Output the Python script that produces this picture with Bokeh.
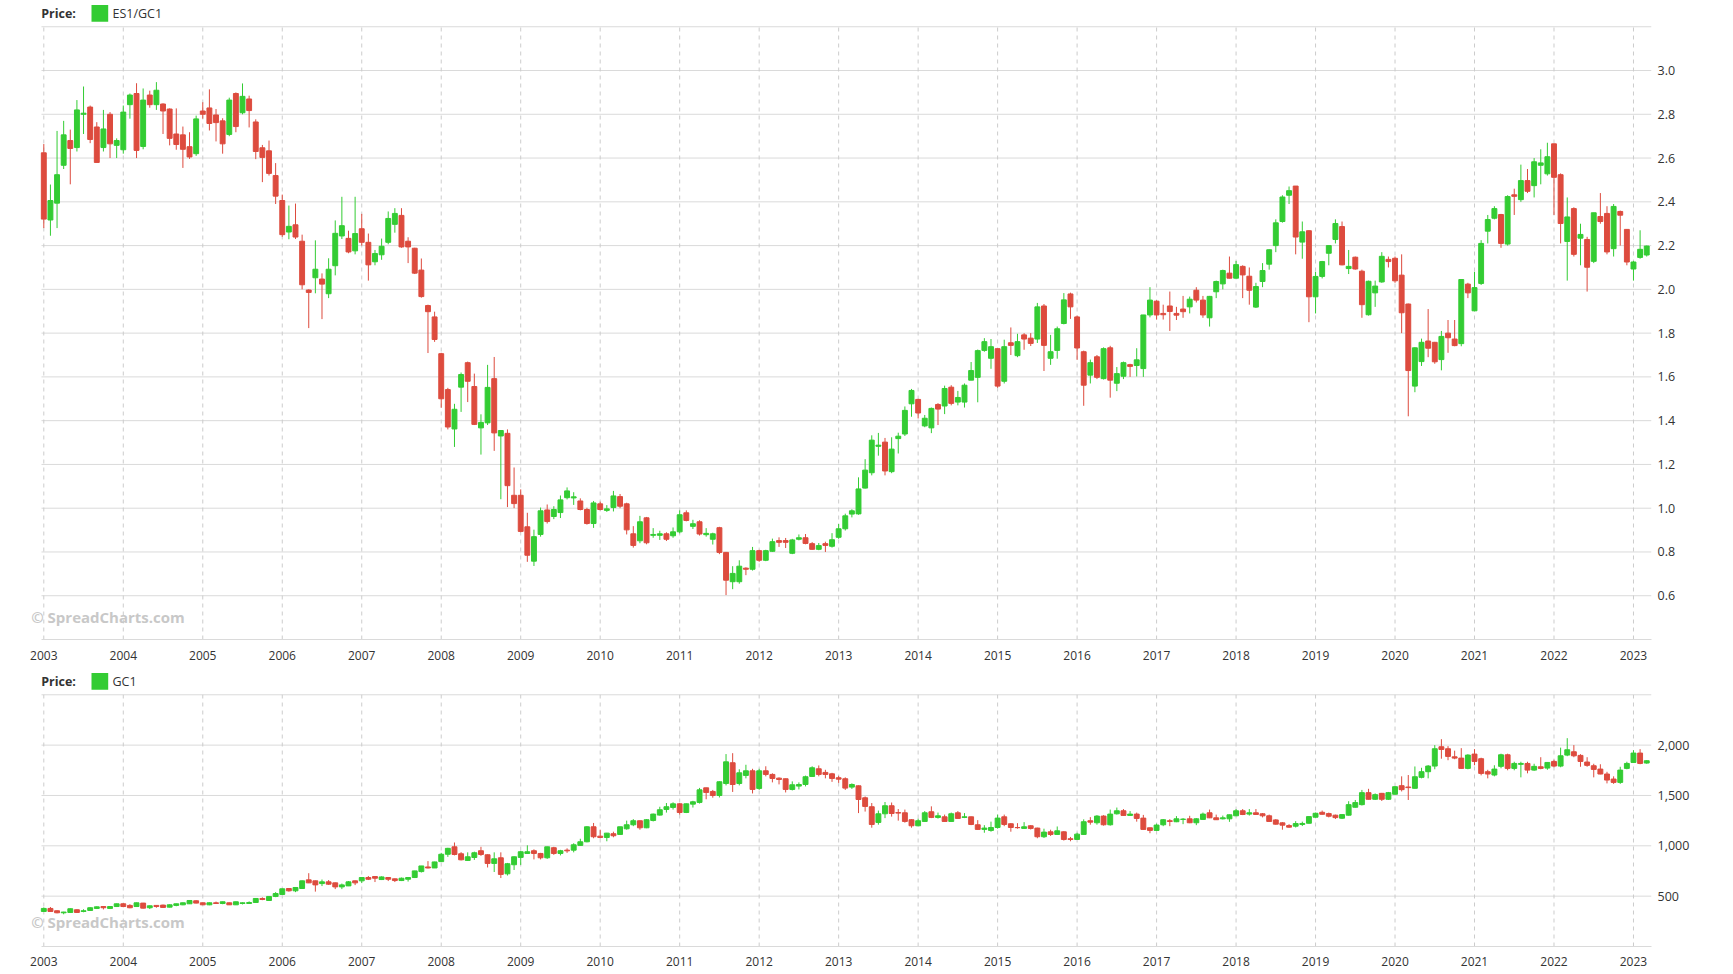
from bokeh.plotting import figure
from bokeh.models import (ColumnDataSource, FixedTicker, Range1d, Label,
                          BoxAnnotation, NumeralTickFormatter)
from bokeh.layouts import column
from bokeh.embed import file_html
from bokeh.resources import INLINE

# ---------------- data (monthly, Jan 2003 .. Mar 2023) ----------------
year_labels = ["2003", "2004", "2005", "2006", "2007", "2008", "2009", "2010",
               "2011", "2012", "2013", "2014", "2015", "2016", "2017", "2018",
               "2019", "2020", "2021", "2022", "2023"]

ratio_open = [
    2.624, 2.317, 2.394, 2.567, 2.680, 2.648, 2.800, 2.833, 2.742, 2.648, 2.800, 2.658,
    2.638, 2.844, 2.895, 2.653, 2.888, 2.844, 2.847, 2.824, 2.710, 2.706, 2.652, 2.620,
    2.815, 2.829, 2.797, 2.770, 2.708, 2.895, 2.807, 2.870, 2.765, 2.647, 2.633, 2.520,
    2.406, 2.262, 2.295, 2.220, 1.997, 2.053, 2.047, 1.980, 2.108, 2.244, 2.233, 2.176,
    2.277, 2.215, 2.126, 2.158, 2.215, 2.297, 2.338, 2.220, 2.188, 2.088, 1.926, 1.874,
    1.706, 1.542, 1.362, 1.553, 1.665, 1.556, 1.367, 1.390, 1.592, 1.330, 1.342, 1.059,
    1.059, 0.915, 0.758, 0.880, 0.992, 0.962, 0.980, 1.048, 1.047, 1.033, 0.994, 0.930,
    1.020, 0.990, 1.003, 1.053, 1.020, 0.883, 0.851, 0.956, 0.876, 0.876, 0.883, 0.874,
    0.892, 0.979, 0.917, 0.938, 0.879, 0.858, 0.911, 0.798, 0.664, 0.664, 0.726, 0.721,
    0.806, 0.762, 0.803, 0.852, 0.852, 0.794, 0.858, 0.865, 0.838, 0.812, 0.838, 0.826,
    0.867, 0.906, 0.973, 0.974, 1.092, 1.162, 1.283, 1.302, 1.167, 1.318, 1.339, 1.477,
    1.497, 1.376, 1.367, 1.474, 1.467, 1.553, 1.485, 1.485, 1.585, 1.598, 1.721, 1.685,
    1.729, 1.580, 1.756, 1.697, 1.792, 1.777, 1.773, 1.924, 1.685, 1.721, 1.844, 1.979,
    1.874, 1.715, 1.608, 1.692, 1.592, 1.733, 1.571, 1.603, 1.656, 1.652, 1.638, 1.883,
    1.946, 1.890, 1.924, 1.890, 1.910, 1.920, 1.996, 1.951, 1.870, 1.989, 2.025, 2.074,
    2.051, 2.105, 2.060, 1.919, 2.036, 2.115, 2.200, 2.310, 2.430, 2.472, 2.216, 2.268,
    1.966, 2.059, 2.165, 2.228, 2.287, 2.095, 2.147, 2.083, 1.884, 1.984, 2.034, 2.137,
    2.142, 2.065, 1.933, 1.558, 1.670, 1.764, 1.758, 1.679, 1.800, 1.773, 1.752, 2.024,
    1.902, 2.027, 2.266, 2.325, 2.342, 2.207, 2.432, 2.410, 2.497, 2.474, 2.567, 2.528,
    2.665, 2.524, 2.219, 2.369, 2.234, 2.228, 2.128, 2.333, 2.347, 2.186, 2.356, 2.274,
    2.093, 2.146, 2.157]
ratio_high = [
    2.664, 2.479, 2.724, 2.770, 2.730, 2.865, 2.927, 2.840, 2.764, 2.820, 2.810, 2.690,
    2.840, 2.895, 2.942, 2.918, 2.908, 2.947, 2.850, 2.827, 2.827, 2.744, 2.718, 2.794,
    2.855, 2.914, 2.824, 2.782, 2.876, 2.900, 2.941, 2.885, 2.777, 2.660, 2.680, 2.577,
    2.433, 2.383, 2.392, 2.250, 2.000, 2.224, 2.073, 2.142, 2.315, 2.423, 2.268, 2.423,
    2.345, 2.255, 2.180, 2.232, 2.356, 2.371, 2.371, 2.238, 2.190, 2.141, 1.930, 1.898,
    1.710, 1.550, 1.477, 1.620, 1.670, 1.615, 1.429, 1.655, 1.691, 1.355, 1.360, 1.186,
    1.086, 0.979, 0.902, 1.003, 1.017, 1.009, 1.058, 1.095, 1.073, 1.045, 1.002, 1.033,
    1.030, 1.014, 1.079, 1.065, 1.025, 0.918, 0.965, 0.960, 0.909, 0.897, 0.890, 0.912,
    0.990, 0.990, 0.947, 0.945, 0.909, 0.888, 0.915, 0.800, 0.735, 0.762, 0.730, 0.823,
    0.810, 0.810, 0.861, 0.867, 0.864, 0.860, 0.880, 0.882, 0.845, 0.841, 0.847, 0.886,
    0.928, 0.975, 0.995, 1.141, 1.224, 1.333, 1.344, 1.321, 1.324, 1.345, 1.465, 1.545,
    1.500, 1.426, 1.460, 1.480, 1.560, 1.562, 1.536, 1.570, 1.668, 1.725, 1.777, 1.773,
    1.730, 1.770, 1.826, 1.797, 1.800, 1.800, 1.938, 1.933, 1.792, 1.830, 1.983, 1.985,
    1.880, 1.720, 1.679, 1.700, 1.735, 1.742, 1.645, 1.670, 1.660, 1.731, 1.883, 2.010,
    1.950, 1.930, 1.990, 1.920, 1.970, 1.967, 2.010, 1.970, 1.970, 2.040, 2.090, 2.150,
    2.130, 2.110, 2.100, 2.030, 2.120, 2.183, 2.320, 2.430, 2.470, 2.472, 2.310, 2.270,
    2.080, 2.130, 2.200, 2.320, 2.310, 2.180, 2.150, 2.090, 2.040, 2.040, 2.170, 2.150,
    2.150, 2.160, 1.935, 1.735, 1.775, 1.910, 1.760, 1.810, 1.860, 1.860, 2.045, 2.030,
    2.080, 2.225, 2.340, 2.380, 2.345, 2.430, 2.460, 2.570, 2.550, 2.600, 2.640, 2.670,
    2.665, 2.530, 2.420, 2.375, 2.300, 2.240, 2.350, 2.440, 2.380, 2.390, 2.360, 2.275,
    2.130, 2.270, 2.200]
ratio_low = [
    2.280, 2.245, 2.280, 2.550, 2.480, 2.630, 2.710, 2.668, 2.580, 2.630, 2.600, 2.600,
    2.620, 2.780, 2.600, 2.640, 2.830, 2.820, 2.710, 2.658, 2.638, 2.555, 2.596, 2.610,
    2.780, 2.726, 2.676, 2.620, 2.700, 2.718, 2.800, 2.740, 2.595, 2.490, 2.520, 2.390,
    2.240, 2.229, 2.230, 2.000, 1.823, 1.982, 1.864, 1.960, 2.064, 2.230, 2.165, 2.160,
    2.200, 2.040, 2.110, 2.135, 2.206, 2.259, 2.190, 2.120, 2.070, 1.962, 1.709, 1.760,
    1.459, 1.360, 1.280, 1.440, 1.485, 1.380, 1.245, 1.380, 1.262, 1.041, 1.005, 1.000,
    0.890, 0.755, 0.736, 0.870, 0.930, 0.950, 0.955, 1.040, 1.015, 0.990, 0.925, 0.910,
    0.990, 0.983, 0.985, 1.000, 0.880, 0.820, 0.840, 0.835, 0.865, 0.855, 0.850, 0.865,
    0.885, 0.940, 0.905, 0.875, 0.870, 0.834, 0.790, 0.603, 0.630, 0.655, 0.694, 0.715,
    0.755, 0.758, 0.800, 0.823, 0.818, 0.790, 0.853, 0.835, 0.810, 0.808, 0.800, 0.820,
    0.860, 0.898, 0.958, 0.970, 1.090, 1.150, 1.240, 1.150, 1.160, 1.250, 1.330, 1.418,
    1.410, 1.370, 1.343, 1.380, 1.430, 1.470, 1.470, 1.460, 1.585, 1.484, 1.715, 1.637,
    1.550, 1.570, 1.700, 1.690, 1.724, 1.741, 1.755, 1.627, 1.655, 1.683, 1.840, 1.865,
    1.678, 1.468, 1.570, 1.590, 1.588, 1.505, 1.535, 1.590, 1.600, 1.602, 1.600, 1.872,
    1.862, 1.862, 1.810, 1.860, 1.870, 1.890, 1.940, 1.870, 1.830, 1.960, 2.000, 2.050,
    2.050, 1.960, 1.930, 1.915, 2.010, 2.090, 2.170, 2.305, 2.390, 2.160, 2.140, 1.850,
    1.890, 2.050, 2.110, 2.210, 2.110, 2.070, 2.090, 1.870, 1.880, 1.920, 2.030, 2.100,
    2.030, 1.800, 1.420, 1.530, 1.650, 1.690, 1.660, 1.630, 1.710, 1.740, 1.740, 1.960,
    1.900, 2.020, 2.210, 2.320, 2.190, 2.200, 2.340, 2.400, 2.440, 2.420, 2.480, 2.520,
    2.340, 2.210, 2.040, 2.150, 2.110, 1.990, 2.120, 2.300, 2.160, 2.150, 2.200, 2.110,
    2.040, 2.140, 2.150]
ratio_close = [
    2.321, 2.406, 2.524, 2.706, 2.644, 2.820, 2.805, 2.685, 2.580, 2.733, 2.665, 2.680,
    2.810, 2.888, 2.635, 2.865, 2.844, 2.910, 2.815, 2.690, 2.662, 2.640, 2.605, 2.779,
    2.800, 2.758, 2.762, 2.665, 2.865, 2.744, 2.882, 2.817, 2.630, 2.603, 2.530, 2.426,
    2.250, 2.288, 2.239, 2.021, 1.986, 2.092, 2.024, 2.092, 2.256, 2.291, 2.171, 2.255,
    2.215, 2.112, 2.164, 2.197, 2.324, 2.347, 2.194, 2.194, 2.074, 1.967, 1.898, 1.771,
    1.500, 1.371, 1.452, 1.611, 1.580, 1.383, 1.392, 1.552, 1.344, 1.355, 1.103, 1.021,
    0.894, 0.785, 0.870, 0.988, 0.939, 0.994, 1.038, 1.079, 1.052, 0.994, 0.930, 1.024,
    0.994, 0.997, 1.056, 1.009, 0.901, 0.830, 0.938, 0.842, 0.880, 0.883, 0.858, 0.892,
    0.970, 0.944, 0.929, 0.882, 0.885, 0.883, 0.798, 0.671, 0.702, 0.735, 0.721, 0.806,
    0.762, 0.806, 0.847, 0.844, 0.844, 0.855, 0.865, 0.839, 0.812, 0.829, 0.830, 0.856,
    0.906, 0.965, 0.988, 1.088, 1.174, 1.311, 1.288, 1.170, 1.270, 1.329, 1.447, 1.538,
    1.435, 1.411, 1.456, 1.453, 1.547, 1.479, 1.506, 1.562, 1.629, 1.720, 1.761, 1.738,
    1.558, 1.738, 1.744, 1.761, 1.773, 1.753, 1.920, 1.744, 1.715, 1.820, 1.952, 1.920,
    1.732, 1.562, 1.665, 1.598, 1.729, 1.585, 1.615, 1.665, 1.648, 1.678, 1.883, 1.951,
    1.883, 1.884, 1.899, 1.882, 1.898, 1.955, 1.951, 1.883, 1.968, 2.036, 2.086, 2.051,
    2.113, 2.066, 1.996, 2.013, 2.086, 2.181, 2.304, 2.422, 2.451, 2.239, 2.263, 1.966,
    2.059, 2.127, 2.200, 2.301, 2.112, 2.105, 2.093, 1.930, 2.037, 2.015, 2.151, 2.127,
    2.039, 1.893, 1.629, 1.733, 1.758, 1.731, 1.669, 1.785, 1.779, 1.743, 2.045, 1.984,
    2.008, 2.210, 2.319, 2.369, 2.210, 2.424, 2.425, 2.497, 2.448, 2.583, 2.578, 2.606,
    2.512, 2.301, 2.331, 2.160, 2.251, 2.101, 2.350, 2.310, 2.171, 2.379, 2.339, 2.125,
    2.125, 2.183, 2.198]

gold_open = [
    348, 378, 355, 335, 338, 365, 348, 358, 378, 397, 378, 397,
    424, 408, 397, 431, 385, 408, 411, 391, 408, 414, 424, 454,
    434, 414, 434, 427, 434, 414, 427, 427, 437, 477, 457, 497,
    517, 576, 553, 576, 662, 652, 625, 642, 632, 592, 602, 652,
    652, 685, 695, 665, 685, 672, 655, 668, 685, 744, 790, 780,
    843, 916, 990, 921, 855, 884, 951, 911, 825, 881, 722, 812,
    885, 924, 951, 924, 881, 981, 924, 957, 957, 1004, 1040, 1189,
    1096, 1083, 1120, 1113, 1169, 1209, 1249, 1179, 1252, 1305, 1361, 1381,
    1417, 1331, 1414, 1431, 1576, 1540, 1500, 1619, 1825, 1619, 1699, 1745,
    1570, 1745, 1709, 1672, 1666, 1560, 1593, 1609, 1689, 1765, 1729, 1715,
    1676, 1666, 1583, 1596, 1477, 1388, 1232, 1318, 1398, 1330, 1328, 1259,
    1199, 1242, 1338, 1282, 1288, 1242, 1328, 1282, 1288, 1209, 1163, 1153,
    1182, 1288, 1219, 1182, 1173, 1199, 1176, 1090, 1139, 1113, 1139, 1070,
    1063, 1113, 1249, 1229, 1295, 1209, 1318, 1348, 1302, 1315, 1275, 1179,
    1153, 1209, 1249, 1239, 1262, 1268, 1229, 1262, 1328, 1278, 1268, 1268,
    1298, 1348, 1315, 1328, 1318, 1298, 1257, 1228, 1201, 1195, 1212, 1224,
    1284, 1333, 1320, 1304, 1274, 1304, 1383, 1409, 1528, 1462, 1521, 1462,
    1512, 1597, 1584, 1571, 1680, 1736, 1792, 1984, 1964, 1884, 1871, 1769,
    1911, 1865, 1736, 1703, 1789, 1904, 1769, 1809, 1818, 1752, 1785, 1772,
    1838, 1792, 1901, 1934, 1898, 1832, 1795, 1762, 1713, 1663, 1630, 1769,
    1828, 1921, 1822]
gold_high = [
    388, 392, 358, 345, 378, 368, 370, 390, 398, 400, 400, 426,
    430, 420, 436, 433, 408, 410, 416, 418, 426, 436, 458, 458,
    436, 438, 446, 446, 436, 446, 438, 448, 478, 488, 500, 540,
    575, 580, 590, 655, 728, 655, 665, 660, 635, 625, 650, 655,
    690, 700, 700, 697, 690, 675, 685, 688, 752, 800, 848, 842,
    930, 980, 1033, 937, 935, 942, 990, 915, 935, 935, 830, 895,
    950, 1005, 965, 930, 992, 990, 960, 975, 1025, 1070, 1195, 1227,
    1160, 1128, 1140, 1190, 1250, 1265, 1250, 1265, 1320, 1388, 1425, 1432,
    1425, 1420, 1447, 1575, 1577, 1555, 1640, 1911, 1920, 1760, 1805, 1765,
    1765, 1790, 1720, 1680, 1668, 1640, 1630, 1697, 1790, 1798, 1755, 1725,
    1695, 1680, 1620, 1600, 1490, 1425, 1350, 1435, 1430, 1365, 1360, 1265,
    1270, 1345, 1392, 1330, 1310, 1330, 1345, 1325, 1290, 1255, 1205, 1240,
    1310, 1310, 1225, 1225, 1235, 1205, 1180, 1170, 1160, 1192, 1145, 1088,
    1130, 1263, 1285, 1305, 1305, 1360, 1380, 1365, 1345, 1330, 1307, 1180,
    1220, 1265, 1265, 1295, 1275, 1298, 1275, 1330, 1360, 1310, 1300, 1310,
    1365, 1365, 1365, 1365, 1325, 1310, 1265, 1235, 1215, 1245, 1240, 1293,
    1330, 1350, 1330, 1310, 1312, 1443, 1455, 1555, 1566, 1520, 1525, 1535,
    1592, 1690, 1703, 1788, 1775, 1802, 2000, 2059, 1990, 1945, 1970, 1910,
    1960, 1875, 1755, 1800, 1915, 1915, 1835, 1835, 1835, 1815, 1880, 1832,
    1855, 1975, 2069, 2000, 1910, 1880, 1815, 1810, 1735, 1690, 1785, 1835,
    1950, 1960, 1850]
gold_low = [
    345, 345, 330, 320, 335, 335, 340, 355, 372, 368, 372, 392,
    390, 380, 395, 378, 372, 385, 385, 388, 400, 410, 422, 428,
    412, 410, 424, 420, 412, 412, 418, 425, 435, 460, 455, 490,
    515, 545, 540, 575, 630, 545, 600, 612, 570, 570, 600, 610,
    630, 660, 640, 660, 650, 640, 650, 645, 680, 735, 775, 780,
    840, 890, 905, 855, 850, 860, 900, 785, 740, 680, 705, 760,
    810, 920, 865, 865, 870, 910, 905, 930, 935, 1000, 1035, 1075,
    1075, 1045, 1085, 1110, 1160, 1195, 1160, 1175, 1242, 1300, 1330, 1360,
    1310, 1325, 1380, 1420, 1462, 1478, 1480, 1600, 1535, 1600, 1670, 1520,
    1555, 1690, 1630, 1610, 1530, 1550, 1560, 1590, 1685, 1690, 1670, 1635,
    1625, 1555, 1565, 1325, 1340, 1180, 1210, 1275, 1290, 1250, 1230, 1180,
    1195, 1240, 1275, 1270, 1240, 1240, 1270, 1275, 1205, 1160, 1130, 1140,
    1170, 1195, 1140, 1170, 1170, 1162, 1075, 1078, 1098, 1110, 1052, 1045,
    1060, 1110, 1210, 1210, 1200, 1200, 1310, 1300, 1300, 1240, 1160, 1125,
    1148, 1195, 1195, 1235, 1215, 1225, 1205, 1260, 1275, 1258, 1262, 1238,
    1295, 1305, 1300, 1310, 1282, 1238, 1210, 1160, 1180, 1182, 1196, 1222,
    1280, 1310, 1282, 1266, 1266, 1300, 1380, 1400, 1460, 1455, 1445, 1455,
    1510, 1540, 1455, 1570, 1670, 1670, 1760, 1865, 1850, 1860, 1765, 1760,
    1800, 1700, 1670, 1690, 1770, 1750, 1750, 1680, 1720, 1745, 1760, 1755,
    1780, 1780, 1890, 1880, 1785, 1785, 1680, 1710, 1620, 1615, 1615, 1760,
    1825, 1810, 1815]
gold_close = [
    378, 348, 335, 342, 375, 338, 355, 385, 394, 385, 397, 424,
    397, 385, 434, 381, 404, 397, 388, 414, 424, 434, 457, 431,
    414, 434, 427, 444, 414, 444, 434, 437, 477, 467, 497, 526,
    573, 553, 586, 652, 632, 612, 642, 619, 592, 612, 642, 632,
    685, 668, 678, 691, 668, 655, 678, 685, 751, 800, 780, 840,
    916, 975, 914, 861, 891, 931, 914, 825, 871, 716, 822, 891,
    941, 941, 924, 881, 990, 924, 951, 950, 1010, 1040, 1189, 1090,
    1083, 1126, 1100, 1189, 1209, 1249, 1179, 1259, 1315, 1358, 1388, 1417,
    1331, 1417, 1437, 1556, 1530, 1500, 1636, 1834, 1609, 1725, 1745, 1560,
    1745, 1709, 1669, 1659, 1560, 1606, 1609, 1686, 1775, 1709, 1709, 1669,
    1662, 1573, 1609, 1460, 1391, 1212, 1318, 1398, 1321, 1325, 1242, 1199,
    1249, 1328, 1282, 1298, 1242, 1318, 1272, 1288, 1212, 1163, 1176, 1182,
    1275, 1212, 1182, 1180, 1189, 1173, 1090, 1136, 1113, 1149, 1063, 1063,
    1116, 1239, 1235, 1295, 1209, 1315, 1348, 1302, 1315, 1272, 1163, 1153,
    1206, 1259, 1242, 1268, 1265, 1229, 1268, 1315, 1278, 1259, 1278, 1308,
    1348, 1311, 1328, 1311, 1298, 1242, 1215, 1205, 1185, 1221, 1222, 1290,
    1323, 1313, 1294, 1280, 1310, 1409, 1429, 1528, 1462, 1508, 1462, 1528,
    1587, 1558, 1578, 1686, 1736, 1792, 1964, 1957, 1888, 1871, 1769, 1901,
    1838, 1719, 1713, 1762, 1904, 1769, 1818, 1818, 1752, 1789, 1769, 1828,
    1792, 1894, 1954, 1894, 1838, 1799, 1759, 1713, 1653, 1630, 1752, 1818,
    1921, 1818, 1845]

ratio_ticks = [0.6, 0.8, 1.0, 1.2, 1.4, 1.6, 1.8, 2.0, 2.2, 2.4, 2.6, 2.8, 3.0]
ratio_grid = ratio_ticks + [3.2]
ratio_span = (0.4, 3.2)        # value extent of the ratio chart body
gold_ticks = [500, 1000, 1500, 2000]
gold_grid = gold_ticks + [2500]
gold_span = (0, 2500)          # value extent of the gold chart body

# ---------------- styling / layout ----------------
FONT = "Open Sans"
GREEN = "#33cc33"
RED = "#dd4b3e"
TXT = "#333333"
GRID = "#dadada"
VGRID = "#cccccc"

n = len(ratio_close)
months = list(range(n))
year_ticks = months[::12]
year_over = {t: lab for t, lab in zip(year_ticks, year_labels)}

X_LO, X_HI = -0.35, 242.72       # month extent of the chart body
X_VIEW_LO = -2.31                # frame extends a little left (watermark)
FRAME_W = 1623
BORDER_L = 28


def panel(o, h, l, c, span, y_view_hi, ticks, grid, fmt, name, frame_h,
          b_bot, standoff, wm_y):
    col = [GREEN if cc >= oo else RED for oo, cc in zip(o, c)]
    src = ColumnDataSource(dict(
        x=months, top=[max(a, b) for a, b in zip(o, c)],
        bottom=[min(a, b) for a, b in zip(o, c)], high=h, low=l, color=col))
    p = figure(frame_width=FRAME_W, frame_height=frame_h,
               x_range=Range1d(X_VIEW_LO, X_HI),
               y_range=Range1d(span[0], y_view_hi),
               output_backend="svg", toolbar_location=None,
               y_axis_location="right",
               min_border_left=BORDER_L, min_border_right=80,
               min_border_top=0, min_border_bottom=b_bot)
    p.outline_line_color = None
    p.background_fill_color = "white"
    p.border_fill_color = "white"
    p.xgrid.visible = False
    p.ygrid.visible = False

    # grid lines limited to the chart body
    p.segment(x0=[X_LO] * len(grid), y0=grid, x1=[X_HI] * len(grid), y1=grid,
              line_color=GRID, line_width=1)
    p.segment(x0=year_ticks, y0=[span[0]] * len(year_ticks),
              x1=year_ticks, y1=[span[1]] * len(year_ticks),
              line_color=VGRID, line_width=1, line_dash="4 4")

    # candles
    p.segment(x0="x", y0="low", x1="x", y1="high", source=src,
              line_color="color", line_width=1)
    p.vbar(x="x", width=0.74, top="top", bottom="bottom", source=src,
           fill_color="color", line_color="color", line_width=1)

    xa = p.xaxis[0]
    xa.ticker = FixedTicker(ticks=year_ticks)
    xa.major_label_overrides = year_over
    xa.bounds = (X_LO, X_HI)
    xa.axis_line_color = GRID
    xa.major_tick_line_color = None
    xa.minor_tick_line_color = None
    xa.major_label_standoff = standoff
    xa.major_label_text_font = FONT
    xa.major_label_text_font_size = "12px"
    xa.major_label_text_color = TXT

    ya = p.yaxis[0]
    ya.ticker = FixedTicker(ticks=ticks)
    ya.formatter = NumeralTickFormatter(format=fmt)
    ya.axis_line_color = None
    ya.major_tick_line_color = None
    ya.minor_tick_line_color = None
    ya.major_label_standoff = 0
    ya.major_label_text_font = FONT
    ya.major_label_text_font_size = "12.5px"
    ya.major_label_text_color = TXT

    # legend row (inside the extended frame, above the chart body)
    top = frame_h
    p.add_layout(Label(x=12.7, y=top - 13, x_units="screen", y_units="screen",
                       text="Price:", text_font=FONT, text_font_style="bold",
                       text_font_size="12.5px", text_color=TXT,
                       text_baseline="middle"))
    p.add_layout(BoxAnnotation(left=63, right=79.7, bottom=top - 21.3,
                               top=top - 4.6, left_units="screen",
                               right_units="screen", top_units="screen",
                               bottom_units="screen", fill_color=GREEN,
                               fill_alpha=1.0, line_color=None))
    p.add_layout(Label(x=84, y=top - 13, x_units="screen", y_units="screen",
                       text=name, text_font=FONT, text_font_size="12.5px",
                       text_color=TXT, text_baseline="middle"))
    # watermark
    p.add_layout(Label(x=2.7, y=wm_y, x_units="screen", y_units="screen",
                       text="\u00a9 SpreadCharts.com", text_font=FONT,
                       text_font_style="bold", text_font_size="15px",
                       text_color="#c8c8c8", text_baseline="middle"))
    return p


p1 = panel(ratio_open, ratio_high, ratio_low, ratio_close, ratio_span, 3.32,
           ratio_ticks, ratio_grid, "0.0", "ES1/GC1",
           frame_h=639, b_bot=29, standoff=5, wm_y=22.3)
p2 = panel(gold_open, gold_high, gold_low, gold_close, gold_span, 2761,
           gold_ticks, gold_grid, "0,0", "GC1",
           frame_h=278, b_bot=26, standoff=4, wm_y=25)

layout = column(p1, p2, spacing=0)
open("out.html", "w").write(file_html(layout, INLINE))
